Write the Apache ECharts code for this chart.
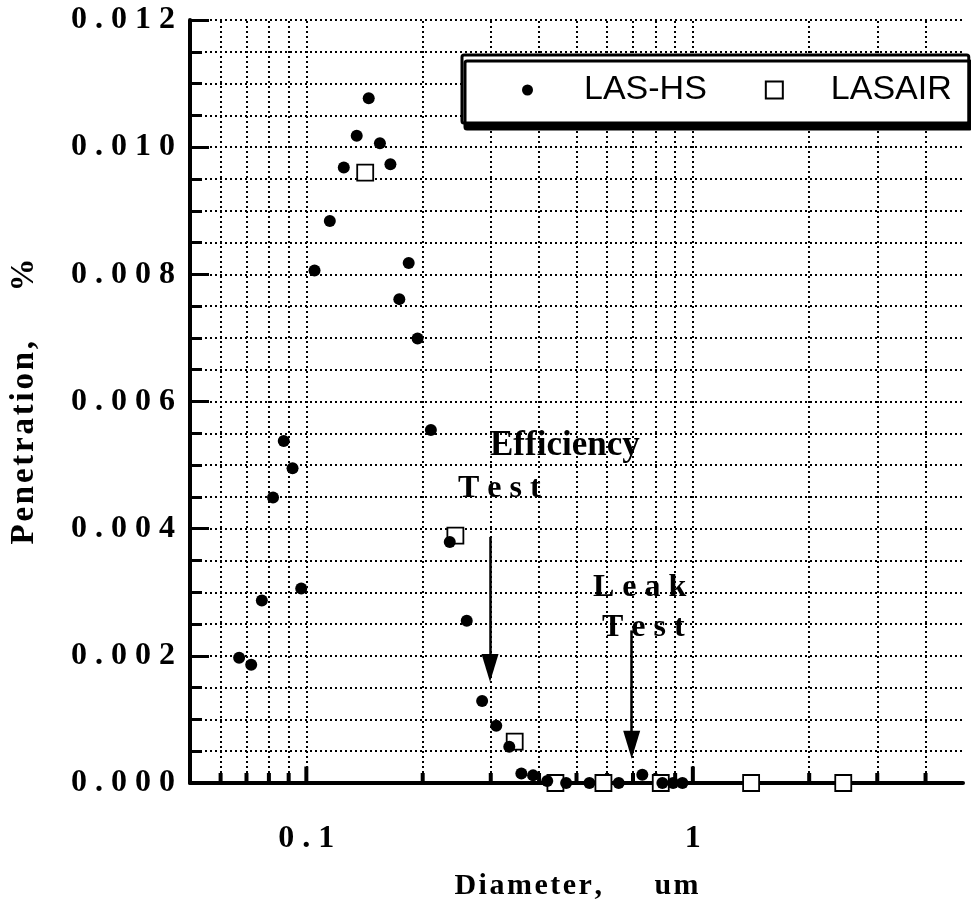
<!DOCTYPE html>
<html>
<head>
<meta charset="utf-8">
<script src="https://cdn.jsdelivr.net/npm/echarts@6/dist/echarts.min.js"></script>
<style>
  html, body { margin: 0; padding: 0; background: #fff; }
  #chart { width: 971px; height: 916px; }
</style>
</head>
<body>
<div id="chart"></div>
<script>
// diameter in um, penetration in %
var lasHsDiameter = [0.067, 0.072, 0.0767, 0.082, 0.0874, 0.0921, 0.097, 0.105, 0.115, 0.125,
  0.135, 0.145, 0.155, 0.165, 0.174, 0.184, 0.194, 0.21, 0.235, 0.26,
  0.285, 0.31, 0.335, 0.36, 0.386, 0.42, 0.47, 0.54, 0.643, 0.74, 0.834, 0.889, 0.94];
var lasHsPenetration = [0.00197, 0.00186, 0.00287, 0.00449, 0.00538, 0.00495, 0.00306, 0.00806, 0.00884, 0.00968,
  0.01018, 0.01077, 0.01006, 0.00973, 0.00761, 0.00818, 0.00699, 0.00555, 0.00379, 0.00255,
  0.00129, 0.0009, 0.00057, 0.00015, 0.00012, 0.00003, 0.0, 0.0, 0.0, 0.00013, 0.0, 0.0, 0.0];

var lasairDiameter = [0.142, 0.243, 0.346, 0.441, 0.587, 0.826, 1.415, 2.45];
var lasairPenetration = [0.0096, 0.00389, 0.00065, 0.0, 0.0, 0.0, 0.0, 0.0];

// grid lines / ticks on the log axis
var minorDiameters = [0.06, 0.07, 0.08, 0.09, 0.2, 0.3, 0.4, 0.5, 0.6, 0.7, 0.8, 0.9, 2, 3, 4];
var majorDiameters = [0.1, 1];
var xTickLabels = ['0.1', '1'];

function spread(s, sep) {
  return s.split('').join(sep);
}

var serif = '"Liberation Serif", "Times New Roman", serif';
var dotted = { color: '#000', type: [2, 3], width: 2 };

var myChart = echarts.init(document.getElementById('chart'));

var option = {
  animation: false,
  grid: { left: 190, right: 8, top: 20, bottom: 133, containLabel: false, outerBoundsMode: 'none' },
  legend: {
    left: 462,
    top: 55,
    padding: [18, 17, 16, 57],
    itemGap: 58,
    itemWidth: 17,
    itemHeight: 17,
    backgroundColor: '#fff',
    borderColor: '#000',
    borderWidth: 3,
    borderRadius: 2,
    shadowColor: '#000',
    shadowBlur: 0,
    shadowOffsetX: 3,
    shadowOffsetY: 6,
    selectedMode: false,
    textStyle: {
      fontFamily: '"Liberation Sans", Arial, sans-serif',
      fontSize: 34,
      color: '#000',
      padding: [0, 0, 0, 43]
    },
    data: [
      { name: 'LAS-HS', icon: 'path://M0,0M17,17M3,8.5a5.5,5.5 0 1,0 11,0a5.5,5.5 0 1,0 -11,0z' },
      { name: 'LASAIR', icon: 'rect' }
    ]
  },
  xAxis: {
    type: 'log',
    logBase: 10,
    min: 0.05,
    max: 5,
    name: spread('Diameter,', '\u200a') + '       ' + spread('um', '\u200a'),
    nameLocation: 'middle',
    nameGap: 88,
    nameTextStyle: { fontFamily: serif, fontWeight: 'bold', fontSize: 30, color: '#000' },
    axisLine: { show: true, lineStyle: { color: '#000', width: 4 } },
    axisTick: { show: false },
    splitLine: { show: false },
    axisLabel: {
      margin: 40,
      fontFamily: serif,
      fontWeight: 'bold',
      fontSize: 32,
      color: '#000',
      showMinLabel: false,
      showMaxLabel: false,
      formatter: function (v) {
        for (var i = 0; i < majorDiameters.length; i++) {
          if (Math.abs(v - majorDiameters[i]) < 1e-9) return spread(xTickLabels[i], ' ');
        }
        return '';
      }
    }
  },
  yAxis: {
    type: 'value',
    min: 0,
    max: 0.012,
    interval: 0.002,
    name: spread('Penetration,', '\u200a') + '      %',
    nameLocation: 'middle',
    nameRotate: 90,
    nameGap: 149,
    nameTextStyle: { fontFamily: serif, fontWeight: 'bold', fontSize: 33, color: '#000' },
    axisLine: { show: true, lineStyle: { color: '#000', width: 4 } },
    axisTick: { show: true, inside: true, length: 19, lineStyle: { color: '#000', width: 3 } },
    minorTick: { show: true, splitNumber: 4, length: 12, lineStyle: { color: '#000', width: 3 } },
    splitLine: { show: true, lineStyle: dotted },
    minorSplitLine: { show: true, lineStyle: dotted },
    axisLabel: {
      margin: 15,
      fontFamily: serif,
      fontWeight: 'bold',
      fontSize: 32,
      color: '#000',
      formatter: function (v) { return spread(v.toFixed(3), ' '); }
    }
  },
  series: [
    {
      // vertical grid + bottom tick marks
      name: 'minorTicks',
      type: 'scatter',
      silent: true,
      clip: false,
      symbol: 'rect',
      symbolSize: [4, 10],
      symbolOffset: [0, -5],
      itemStyle: { color: '#000', opacity: 1 },
      data: minorDiameters.map(function (d) { return [d, 0]; }),
      markLine: {
        silent: true,
        z: 1,
        symbol: ['none', 'none'],
        label: { show: false },
        lineStyle: dotted,
        data: minorDiameters.concat(majorDiameters).map(function (d) { return { xAxis: d }; })
      }
    },
    {
      name: 'majorTicks',
      type: 'scatter',
      silent: true,
      clip: false,
      symbol: 'rect',
      symbolSize: [4, 17],
      symbolOffset: [0, -8],
      itemStyle: { color: '#000', opacity: 1 },
      data: majorDiameters.map(function (d) { return [d, 0]; })
    },
    {
      name: 'LASAIR',
      type: 'scatter',
      clip: false,
      symbol: 'rect',
      symbolSize: 16,
      itemStyle: { color: '#fff', borderColor: '#000', borderWidth: 1.8, opacity: 1 },
      data: lasairDiameter.map(function (d, i) { return [d, lasairPenetration[i]]; })
    },
    {
      name: 'LAS-HS',
      type: 'scatter',
      clip: false,
      symbol: 'circle',
      symbolSize: 12,
      itemStyle: { color: '#000', opacity: 1 },
      data: lasHsDiameter.map(function (d, i) { return [d, lasHsPenetration[i]]; }),
      markLine: {
        silent: true,
        symbol: ['none', 'triangle'],
        symbolSize: [17, 28],
        label: { show: false },
        lineStyle: { color: '#000', width: 2.5, type: 'solid' },
        data: [
          [{ coord: [0.2987, 0.00387] }, { coord: [0.2987, 0.00181] }],
          [{ coord: [0.6946, 0.0024] }, { coord: [0.6946, 0.0006] }]
        ]
      }
    }
  ],
  graphic: [
    { type: 'text', x: 490, y: 446, style: { text: 'Efficiency', font: 'bold 35px ' + serif, fill: '#000', align: 'left', verticalAlign: 'middle' } },
    { type: 'text', x: 458, y: 489, style: { text: spread('Test', ' '), font: 'bold 32px ' + serif, fill: '#000', align: 'left', verticalAlign: 'middle' } },
    { type: 'text', x: 593, y: 588, style: { text: spread('Leak', ' '), font: 'bold 32px ' + serif, fill: '#000', align: 'left', verticalAlign: 'middle' } },
    { type: 'text', x: 602, y: 628, style: { text: spread('Test', ' '), font: 'bold 32px ' + serif, fill: '#000', align: 'left', verticalAlign: 'middle' } }
  ]
};

myChart.setOption(option);
window.addEventListener('resize', function () {
  myChart.resize();
});
</script>
</body>
</html>
